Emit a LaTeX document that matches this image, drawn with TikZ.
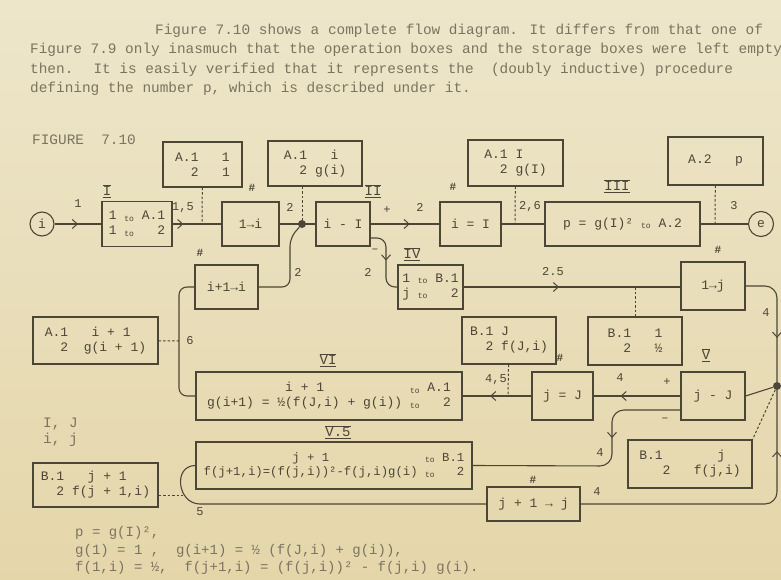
\documentclass[tikz,border=0pt]{standalone}
\usepackage{fontspec}
\setmainfont{Liberation Mono}
\usepackage{tikz}
\usetikzlibrary{positioning,arrows.meta,decorations.markings}

\definecolor{paper}{RGB}{237,230,202}
\definecolor{paperlow}{RGB}{229,214,170}
\definecolor{ink}{RGB}{76,70,54}
\definecolor{typeink}{RGB}{122,116,96}

\newcommand\tto{\raisebox{-1.5pt}{\fontsize{8}{8}\selectfont to}}
\newcommand\romnum[1]{$\overline{\underline{\hbox{#1}}}$}

\begin{document}
\begin{tikzpicture}[
    x=1pt, y=-1pt,
    every node/.style={font=\fontsize{13}{15}\selectfont, text=ink},
    opbox/.style={draw=ink, line width=1.2pt, inner sep=2pt, align=center},
    store/.style={draw=ink, line width=1.2pt, inner sep=4pt, align=left},
    term/.style={draw=ink, circle, line width=1.1pt, minimum size=24pt, inner sep=0pt},
    junction/.style={circle, fill=ink, inner sep=0pt, minimum size=8pt},
    link/.style={draw=ink, line width=1.1pt},
    tie/.style={draw=ink, line width=1pt, dash pattern=on 2.5pt off 2pt},
    midarrow/.style={postaction={decorate}, decoration={markings,
        mark=at position #1 with {\arrow{Straight Barb[length=5pt,width=9pt,line width=1pt]}}}},
    midarrow/.default=0.5,
    tag/.style={font=\fontsize{12}{12}\selectfont, inner sep=1pt},
    hash/.style={font=\fontsize{11}{11}\selectfont\bfseries, inner sep=1pt},
    roman/.style={font=\fontsize{14}{14}\selectfont, inner sep=1pt},
    prose/.style={font=\fontsize{14.4}{16}\selectfont, text=typeink, anchor=base west, inner sep=0pt},
  ]
  \useasboundingbox (0,0) rectangle (781,580);
  \clip (0,0) rectangle (781,580);
  \shade[top color=paper, bottom color=paperlow] (0,0) rectangle (781,580);

  % text above the figure
  \node[prose] (txtA) at (155,35) {Figure 7.10 shows a complete flow diagram. It differs from that one of};
  \node[prose] (txtB) at (30,54) {Figure 7.9 only inasmuch that the operation boxes and the storage boxes were left empty};
  \node[prose] (txtC) at (30,74) {then.~ It is easily verified that it represents the~ (doubly inductive) procedure};
  \node[prose] (txtD) at (30,93) {defining the number p, which is described under it.};
  \node[prose] (figno) at (32,145) {FIGURE~ 7.10};

  % main line
  \node[term] (start) at (42,224) {i};
  \node[opbox, align=left, minimum width=70pt, minimum height=45pt] (boxI) at (137,224) {1 \tto{} A.1\\1 \tto{}~~~2};
  \node[opbox, minimum width=57pt, minimum height=44pt] (onei) at (250.5,224) {1→i};
  \node[junction] (dotA) at (302,224) {};
  \node[opbox, minimum width=54pt, minimum height=44pt] (boxII) at (343,224) {i - I};
  \node[opbox, minimum width=61pt, minimum height=44pt] (ieqI) at (470.5,224) {i = I};
  \node[opbox, minimum width=155pt, minimum height=44pt] (boxIII) at (622.5,224) {p = g(I)² \tto{} A.2};
  \node[term, minimum size=25pt] (stop) at (761,224) {e};

  \node[store, minimum width=79pt, minimum height=45pt] (stA) at (202.5,164.5) {A.1~~~1\\\phantom{A.}2~~~1};
  \node[store, minimum width=94pt, minimum height=45pt] (stB) at (315,163.5) {A.1~~~i\\\phantom{A.}2~g(i)};
  \node[store, minimum width=95pt, minimum height=46pt] (stC) at (515.5,163) {A.1~I\\\phantom{A.}2~g(I)};
  \node[store, minimum width=95pt, minimum height=48pt] (stD) at (715.5,161) {A.2~~~p};

  % second row
  \node[opbox, minimum width=63pt, minimum height=44pt] (ionei) at (226.5,287) {i+1→i};
  \node[opbox, align=left, minimum width=65pt, minimum height=44pt] (boxIV) at (430.5,287) {1 \tto{} B.1\\j \tto{}~~~2};
  \node[opbox, minimum width=64pt, minimum height=48pt] (onej) at (713,286) {1→j};
  \node[store, minimum width=94pt, minimum height=48pt] (stE) at (635,341) {B.1~~~1\\\phantom{B.}2~~~½};
  \node[store, minimum width=94pt, minimum height=47pt] (stF) at (509,340.5) {B.1~J\\\phantom{B.}2~f(J,i)};
  \node[store, minimum width=125pt, minimum height=47pt] (stG) at (95.5,340.5) {A.1~~~i + 1\\\phantom{A.}2~~g(i + 1)};

  % third row
  \node[opbox, minimum width=266pt, minimum height=48pt] (boxVI) at (329,396)
    {\begin{tabular}{@{}c@{~}l@{}}i + 1 & \tto{} A.1\\g(i+1) = ½(f(J,i) + g(i)) & \tto{}~\phantom{A.}2\end{tabular}};
  \node[opbox, minimum width=61pt, minimum height=48pt] (jeqJ) at (562.5,396) {j = J};
  \node[opbox, minimum width=64pt, minimum height=48pt] (boxV) at (713,396) {j - J};
  \node[junction] (dotB) at (777,386) {};

  % fourth row
  \node[opbox, minimum width=276pt, minimum height=47pt, font=\fontsize{12.3}{14.5}\selectfont] (boxVv) at (334,465.5)
    {\begin{tabular}{@{}c@{~}l@{}}j + 1 & \tto{} B.1\\f(j+1,i)=(f(j,i))²-f(j,i)g(i) & \tto{}~\phantom{B.}2\end{tabular}};
  \node[store, minimum width=124pt, minimum height=48pt] (stH) at (690,464) {B.1~~~~~~~j\\\phantom{B.1}2~~~f(j,i)};
  \node[store, minimum width=125pt, minimum height=44pt] (stI) at (95.5,485) {B.1~~~j + 1\\\phantom{B.}2~f(j + 1,i)};
  \node[opbox, minimum width=93pt, minimum height=34pt] (jonej) at (533.5,504) {j + 1 → j};

  % roman numerals and marks
  \node[roman] (rI) at (107,191) {\romnum{I}};
  \node[roman] (rII) at (373,191) {\romnum{II}};
  \node[roman] (rIII) at (617,186) {\romnum{III}};
  \node[roman] (rIV) at (412,254) {\romnum{IV}};
  \node[roman] (rV) at (706,355) {\romnum{V}};
  \node[roman] (rVI) at (328,360) {\romnum{VI}};
  \node[roman] (rVv) at (338,432) {\romnum{V.5}};
  \node[hash] (hA) at (252,188) {\#};
  \node[hash] (hB) at (453,187) {\#};
  \node[hash] (hC) at (200,253) {\#};
  \node[hash] (hD) at (718,250) {\#};
  \node[hash] (hE) at (560,358) {\#};
  \node[hash] (hF) at (533,480) {\#};

  % connectors
  \coordinate (tA) at (202,224);
  \coordinate (tC) at (515,224);
  \coordinate (tD) at (715,224);
  \coordinate (tE) at (635,287);
  \coordinate (tF) at (508,396);
  \coordinate (tG) at (179,341);
  \coordinate (tI) at (183,495);
  \coordinate (riseA) at (290,238);
  \coordinate (bendIV) at (386,287);
  \coordinate (backVI) at (179,287);
  \coordinate (dropV) at (612,466);
  \coordinate (loopV) at (200,504);

  \draw[link, midarrow] (start) -- (boxI);
  \draw[link, midarrow=0.22] (boxI) -- (onei);
  \draw[link] (onei) -- (boxII);
  \draw[link, midarrow=0.57] (boxII) -- (ieqI);
  \draw[link] (ieqI) -- (boxIII);
  \draw[link] (boxIII) -- (stop);
  \draw[link, rounded corners=8pt] (ionei.east) -| (riseA) -- (dotA);
  \draw[link, rounded corners=9pt, midarrow=0.5] ([yshift=-14pt]boxII.east) -| (bendIV) -- (boxIV.west);
  \draw[link, midarrow=0.44] (boxIV) -- (boxIV -| onej.west);
  \draw[link, rounded corners=12pt, midarrow=0.64] (onej.east) -| (dotB);
  \draw[link] (boxV.east) -- (dotB);
  \draw[link, rounded corners=12pt, midarrow=0.8] (jonej.east) -| (dotB);
  \draw[link, midarrow=0.69] (boxV) -- (jeqJ);
  \draw[link, midarrow=0.6] (jeqJ) -- (boxVI);
  \draw[link, rounded corners=12pt, midarrow=0.36] ([yshift=-14pt]boxV.west) -| (dropV) -- (boxVv.east);
  \draw[link, rounded corners=8pt] (boxVI.west) -| (backVI) -- (ionei.west);
  \draw[link] (boxVv.west) to[out=180, in=180, looseness=1.5] (loopV) -- (jonej.west);

  \draw[tie] (stA) -- (tA);
  \draw[tie] (stB.south -| dotA) -- (dotA);
  \draw[tie] (stC) -- (tC);
  \draw[tie] (stD) -- (tD);
  \draw[tie] (tE) -- (stE);
  \draw[tie] (stF) -- (tF);
  \draw[tie] (stG) -- (tG);
  \draw[tie] (stI.east |- tI) -- (tI);
  \draw[tie] (dotB) -- (stH.north east);

  % connector labels
  \node[tag] (lA) at (78,204) {1};
  \node[tag] (lB) at (183,208) {1,5};
  \node[tag] (lC) at (290,207) {2};
  \node[tag] (lD) at (298,272) {2};
  \node[tag] (lE) at (387,210) {+};
  \node[tag] (lF) at (420,207) {2};
  \node[tag] (lG) at (375,251) {–};
  \node[tag] (lH) at (368,272) {2};
  \node[tag] (lI) at (530,207) {2,6};
  \node[tag] (lJ) at (734,206) {3};
  \node[tag] (lK) at (553,272) {2.5};
  \node[tag] (lL) at (766,313) {4};
  \node[tag] (lM) at (620,378) {4};
  \node[tag] (lN) at (667,382) {+};
  \node[tag] (lO) at (665,420) {–};
  \node[tag] (lP) at (600,453) {4};
  \node[tag] (lQ) at (496,380) {4,5};
  \node[tag] (lR) at (190,341) {6};
  \node[tag] (lS) at (200,512) {5};
  \node[tag] (lT) at (597,492) {4};

  % notes below the figure
  \node[prose] (vars) at (43,427) {I, J};
  \node[prose] (varsb) at (43,443) {i, j};
  \node[prose, font=\fontsize{14}{16}\selectfont] (defA) at (75,536) {p = g(I)²,};
  \node[prose, font=\fontsize{14}{16}\selectfont] (defB) at (75,554) {g(1) = 1 ,~ g(i+1) = ½ (f(J,i) + g(i)),};
  \node[prose, font=\fontsize{14}{16}\selectfont] (defC) at (75,571) {f(1,i) = ½,~ f(j+1,i) = (f(j,i))² - f(j,i) g(i).};
\end{tikzpicture}
\end{document}
